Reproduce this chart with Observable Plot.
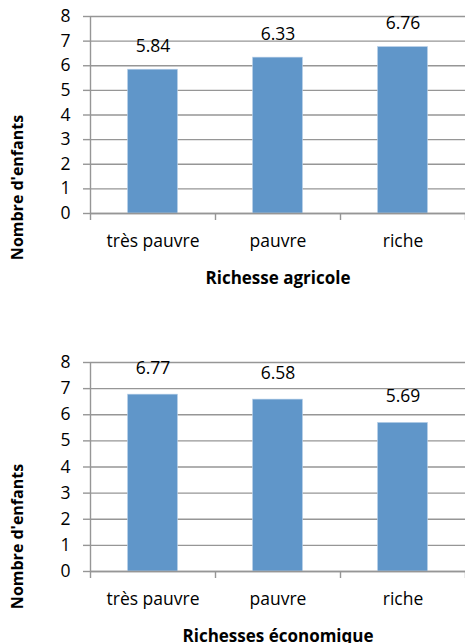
<!DOCTYPE html>
<html>
<head>
<meta charset="utf-8">
<script src="https://cdn.jsdelivr.net/npm/d3@7"></script>
<script src="https://cdn.jsdelivr.net/npm/@observablehq/plot@0.6"></script>
<style>
  html, body { margin: 0; padding: 0; background: #fff; }
  body { width: 465px; height: 643px; overflow: hidden; }
  #c1, #c2 { display: block; }
  svg { overflow: visible; }
</style>
</head>
<body>
<div id="c1"></div>
<div id="c2"></div>
<script>
const categories = ["très pauvre", "pauvre", "riche"];
const agricole = [5.84, 6.33, 6.76];
const economique = [6.77, 6.58, 5.69];
const yTicks = [0, 1, 2, 3, 4, 5, 6, 7, 8];
const yTitle = "Nombre d'enfants";
const xTitle1 = "Richesse agricole";
const xTitle2 = "Richesses économique";

const gray = "#969696";
const barColor = "#6096c9";
const font = "'Open Sans', Lato, sans-serif";
const fs = 17.5;
const fsTitle = 17;
const fsYTitle = 16;

function makeChart({values, xTitle, height, marginTop, marginBottom, labelDy, yTitleDy}) {
  const data = categories.map((c, i) => ({cat: c, i, value: values[i]}));
  const bounds = d3.range(categories.length + 1);
  const centers = categories.map((c, i) => i + 0.5);
  return Plot.plot({
    width: 465,
    height,
    marginTop,
    marginBottom,
    marginLeft: 90,
    marginRight: 0,
    style: {fontFamily: font, fontSize: fs + "px", color: "#000", background: "#fff", overflow: "visible"},
    x: {domain: [0, categories.length]},
    y: {domain: [0, 8]},
    marks: [
      Plot.gridY(yTicks, {stroke: gray, strokeOpacity: 1, strokeWidth: 1.4}),
      Plot.rectY(data, {x1: d => d.i + 0.3, x2: d => d.i + 0.7, y: "value", fill: barColor, stroke: "#bcd3ea", strokeWidth: 0.6}),
      Plot.ruleY([0], {stroke: gray, strokeWidth: 1.4}),
      Plot.ruleX([0], {y1: 0, y2: 8, stroke: gray, strokeWidth: 1.4}),
      Plot.axisY({ticks: yTicks, tickSize: 7, tickPadding: 13, stroke: gray, strokeWidth: 1.4, fontSize: fs, label: null, tickFormat: d3.format("d")}),
      Plot.axisX({ticks: bounds, tickSize: 7, stroke: gray, strokeWidth: 1.4, tickFormat: () => "", label: null}),
      Plot.axisX({ticks: centers, tickSize: 0, tickPadding: 21, fontSize: fs, tickFormat: d => categories[Math.floor(d)], label: null}),
      Plot.text(data, {x: d => d.i + 0.5, y: "value", text: d => d3.format(".2f")(d.value), dy: labelDy, lineAnchor: "middle", fontSize: fs, fill: "#000"}),
      Plot.text([xTitle], {frameAnchor: "bottom", dy: 65, lineAnchor: "middle", fontWeight: "bold", fontSize: fsTitle, fill: "#000"}),
      Plot.text([yTitle], {frameAnchor: "bottom-left", dx: -73, dy: yTitleDy, rotate: -90, textAnchor: "middle", lineAnchor: "middle", fontWeight: "bold", fontSize: fsYTitle, fill: "#000"})
    ]
  });
}

document.getElementById("c1").append(makeChart({
  values: agricole, xTitle: xTitle1, height: 320, marginTop: 16, marginBottom: 107, labelDy: -23.5, yTitleDy: -26
}));
document.getElementById("c2").append(makeChart({
  values: economique, xTitle: xTitle2, height: 323, marginTop: 42, marginBottom: 72, labelDy: -26, yTitleDy: -35
}));
</script>
</body>
</html>
